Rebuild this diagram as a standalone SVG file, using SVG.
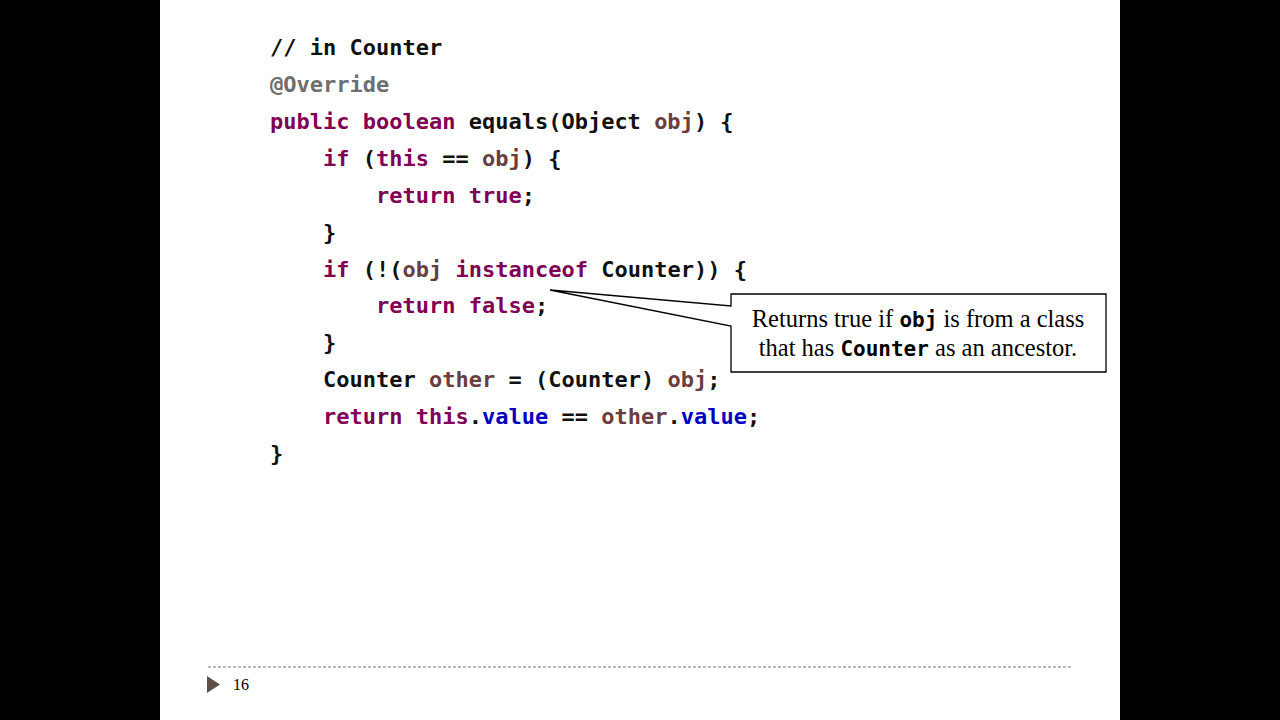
<svg xmlns="http://www.w3.org/2000/svg" width="1280" height="720" viewBox="0 0 1280 720">
<style>
.code{font-family:"DejaVu Sans Mono","Liberation Mono",monospace;font-size:22px;font-weight:bold;fill:#111;white-space:pre}
.kw{fill:#7F0055}
.var{fill:#6A3E3E}
.fld{fill:#0000C0}
.ann{fill:#6E6E6E}
.note{font-family:"Liberation Serif",serif;font-size:24.5px;fill:#000}
.nm{font-family:"DejaVu Sans Mono","Liberation Mono",monospace;font-weight:bold;font-size:21px}
</style>
<rect x="0" y="0" width="1280" height="720" fill="#000"/>
<rect x="160" y="0" width="960" height="720" fill="#fff"/>
<g id="code">
<text class="code" x="270" y="55">// in Counter</text>
<text class="code ann" x="270" y="92">@Override</text>
<text class="code" x="270" y="129"><tspan class="kw">public boolean</tspan> equals(Object <tspan class="var">obj</tspan>) {</text>
<text class="code" x="323" y="166"><tspan class="kw">if</tspan> (<tspan class="kw">this</tspan> == <tspan class="var">obj</tspan>) {</text>
<text class="code" x="376" y="203"><tspan class="kw">return true</tspan>;</text>
<text class="code" x="323" y="240">}</text>
<text class="code" x="323" y="277"><tspan class="kw">if</tspan> (!(<tspan class="var">obj</tspan> <tspan class="kw">instanceof</tspan> Counter)) {</text>
<text class="code" x="376" y="313"><tspan class="kw">return false</tspan>;</text>
<text class="code" x="323" y="350">}</text>
<text class="code" x="323" y="387">Counter <tspan class="var">other</tspan> = (Counter) <tspan class="var">obj</tspan>;</text>
<text class="code" x="323" y="424"><tspan class="kw">return this</tspan>.<tspan class="fld">value</tspan> == <tspan class="var">other</tspan>.<tspan class="fld">value</tspan>;</text>
<text class="code" x="270" y="461">}</text>
</g>
<g id="callout">
<path d="M731,294 H1106 V372 H731 V326 L550,290 L731,306 Z" fill="#fff" stroke="#000" stroke-width="1.3"/>
<text class="note" x="918" y="327" text-anchor="middle">Returns true if <tspan class="nm">obj</tspan> is from a class</text>
<text class="note" x="918" y="356" text-anchor="middle">that has <tspan class="nm">Counter</tspan> as an ancestor.</text>
</g>
<g id="footer">
<line x1="208" y1="667" x2="1072" y2="667" stroke="#777" stroke-width="1.2" stroke-dasharray="3,2"/>
<polygon points="207,676 220,684.5 207,693" fill="#5E5048"/>
<text x="233" y="690" font-family="Liberation Serif,serif" font-size="16" fill="#000">16</text>
</g>
</svg>
